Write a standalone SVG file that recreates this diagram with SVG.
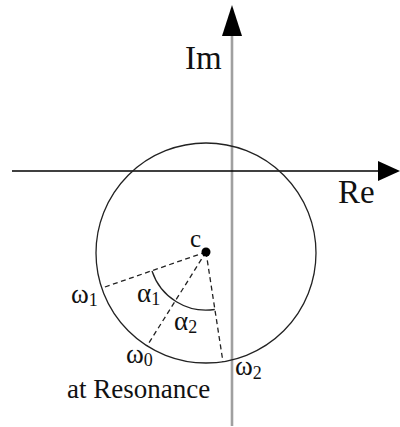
<svg xmlns="http://www.w3.org/2000/svg" width="400" height="427" viewBox="0 0 400 427">
<style>
.dash{stroke:#222;stroke-width:1.3;stroke-dasharray:5 3.5;fill:none}
</style>
<rect width="400" height="427" fill="#fff"/>
<g id="axes">
<line x1="232" y1="34" x2="232" y2="426" stroke="#a0a0a0" stroke-width="2.6"/>
<polygon points="232,5 222,36 242,36" fill="#000"/>
<line x1="12" y1="171" x2="382" y2="171" stroke="#000" stroke-width="1.4"/>
<polygon points="400,171 378,161 378,181" fill="#000"/>
</g>
<g id="circle">
<circle cx="206" cy="253" r="110" fill="none" stroke="#222" stroke-width="1.3"/>
</g>
<g id="connectors">
<line class="dash" x1="206" y1="252" x2="102" y2="288"/>
<line class="dash" x1="206" y1="252" x2="147" y2="346"/>
<line class="dash" x1="206" y1="252" x2="223" y2="362"/>
<path d="M152,271 A57,57 0 0 0 214.8,309.5" fill="none" stroke="#222" stroke-width="1.3"/>
</g>
<g id="center" font-family="Liberation Serif, DejaVu Serif, serif" fill="#111">
<circle cx="206" cy="252" r="4.5" fill="#000"/>
<text x="190" y="247" font-size="25">c</text>
</g>
<g id="labels" font-family="Liberation Serif, DejaVu Serif, serif" fill="#111">
<text x="185" y="69" font-size="33">Im</text>
<text x="338" y="203" font-size="33">Re</text>
<text x="71" y="303" font-size="27">ω<tspan font-size="18" dy="3">1</tspan></text>
<text x="137" y="302" font-size="27">α<tspan font-size="18" dy="3">1</tspan></text>
<text x="174" y="330" font-size="27">α<tspan font-size="18" dy="3">2</tspan></text>
<text x="126" y="363" font-size="27">ω<tspan font-size="18" dy="3">0</tspan></text>
<text x="235" y="375" font-size="27">ω<tspan font-size="18" dy="4">2</tspan></text>
<text x="67" y="398" font-size="27">at Resonance</text>
</g>
</svg>
